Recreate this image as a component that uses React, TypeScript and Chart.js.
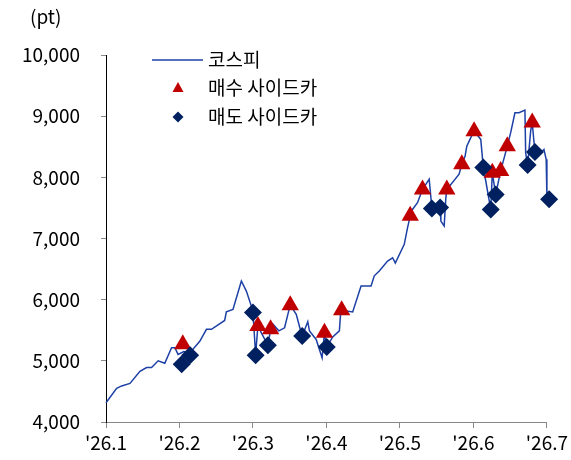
import React, { useEffect, useRef } from "react";
import { Chart, registerables } from "chart.js";

Chart.register(...registerables);

// X axis: month index (1 = '26.1 ... 7 = '26.7)
const xTickLabels = ["'26.1", "'26.2", "'26.3", "'26.4", "'26.5", "'26.6", "'26.7"];
const yTickValues = [4000, 5000, 6000, 7000, 8000, 9000, 10000];

// 코스피 line
const kospiX = [
  1.0, 1.145, 1.213, 1.326, 1.462, 1.552, 1.62, 1.71, 1.8, 1.892, 1.937, 1.981, 2.059, 2.14,
  2.276, 2.367, 2.435, 2.615, 2.638, 2.728, 2.842, 2.91, 2.978, 3.0, 3.036, 3.067, 3.118,
  3.203, 3.24, 3.271, 3.352, 3.43, 3.475, 3.507, 3.589, 3.656, 3.67, 3.746, 3.769, 3.86,
  3.941, 3.973, 4.004, 4.085, 4.176, 4.19, 4.207, 4.357, 4.471, 4.607, 4.651, 4.719, 4.832,
  4.9, 4.937, 5.059, 5.103, 5.14, 5.171, 5.239, 5.307, 5.398, 5.435, 5.547, 5.557, 5.602,
  5.625, 5.638, 5.805, 5.842, 5.887, 5.91, 5.964, 6.009, 6.1, 6.135, 6.168, 6.212, 6.236,
  6.257, 6.303, 6.371, 6.461, 6.507, 6.565, 6.62, 6.701, 6.711, 6.738, 6.779, 6.8, 6.837,
  6.915, 6.96, 6.99, 7.0, 7.03,
];
const kospiY = [
  4315, 4550, 4590, 4630, 4830, 4890, 4890, 5000, 4960, 5215, 5215, 5105, 5150, 5130,
  5320, 5515, 5515, 5660, 5800, 5840, 6305, 6140, 5895, 5790, 5100, 5570, 5450,
  5255, 5515, 5600, 5490, 5540, 5760, 5910, 5760, 5460, 5405, 5640, 5490, 5350,
  5050, 5460, 5225, 5390, 5490, 5735, 5825, 5800, 6225, 6225, 6390, 6470, 6630,
  6685, 6600, 6905, 7175, 7370, 7475, 7585, 7800, 7970, 7490, 7505, 7285, 7205,
  7665, 7800, 8050, 8215, 8350, 8510, 8650, 8755, 8620, 8160, 7940, 7640, 7475,
  8075, 7720, 8105, 8510, 8730, 9055, 9055, 9100, 8400, 8200, 8760, 8895, 8415,
  8400, 8455, 8295, 7695, 7640,
];

// 매수 사이드카 (triangles)
const buyX = [2.045, 3.067, 3.24, 3.507, 3.973, 4.207, 5.14, 5.307, 5.638, 5.842, 6.009, 6.257, 6.371, 6.461, 6.8];
const buyY = [5270, 5570, 5515, 5910, 5460, 5825, 7370, 7800, 7800, 8215, 8755, 8075, 8105, 8510, 8895];

// 매도 사이드카 (diamonds)
const sellX = [2.03, 2.145, 3.0, 3.036, 3.203, 3.67, 4.004, 5.435, 5.547, 6.135, 6.236, 6.303, 6.738, 6.837, 7.03];
const sellY = [4945, 5090, 5790, 5090, 5255, 5405, 5225, 7490, 7505, 8160, 7475, 7720, 8200, 8415, 7640];

const seriesNames = ["코스피", "매수 사이드카", "매도 사이드카"];
const unitLabel = "(pt)";

const LINE_COLOR = "#1d40a6";
const BUY_COLOR = "#c00000";
const SELL_COLOR = "#002060";
const FONT = "'Noto Sans CJK KR', 'Noto Sans', sans-serif";

const overlayPlugin = {
  id: "overlay",
  afterDraw(chart: any) {
    const ctx = chart.ctx as CanvasRenderingContext2D;
    ctx.save();
    ctx.fillStyle = "#000";
    ctx.font = `19px ${FONT}`;
    ctx.textBaseline = "middle";
    ctx.textAlign = "left";
    ctx.fillText(unitLabel, 30, 17);

    // legend
    const lx = 178;
    const tx = 208;
    const rows = [60, 88, 117];
    ctx.strokeStyle = LINE_COLOR;
    ctx.lineWidth = 1.5;
    ctx.beginPath();
    ctx.moveTo(152, rows[0]);
    ctx.lineTo(203, rows[0]);
    ctx.stroke();

    ctx.fillStyle = BUY_COLOR;
    ctx.beginPath();
    ctx.moveTo(lx, rows[1] - 6);
    ctx.lineTo(lx + 5.5, rows[1] + 4);
    ctx.lineTo(lx - 5.5, rows[1] + 4);
    ctx.closePath();
    ctx.fill();

    ctx.fillStyle = SELL_COLOR;
    ctx.beginPath();
    ctx.moveTo(lx, rows[2] - 5.5);
    ctx.lineTo(lx + 5.5, rows[2]);
    ctx.lineTo(lx, rows[2] + 5.5);
    ctx.lineTo(lx - 5.5, rows[2]);
    ctx.closePath();
    ctx.fill();

    ctx.fillStyle = "#000";
    ctx.font = `19px ${FONT}`;
    seriesNames.forEach((n, i) => ctx.fillText(n, tx, rows[i]));
    ctx.restore();
  },
};

export default function App() {
  const ref = useRef<HTMLCanvasElement | null>(null);

  useEffect(() => {
    if (!ref.current) return;
    const chart = new Chart(ref.current, {
      type: "line",
      data: {
        datasets: [
          {
            label: seriesNames[0],
            data: kospiX.map((x, i) => ({ x, y: kospiY[i] })),
            borderColor: LINE_COLOR,
            borderWidth: 1.5,
            pointRadius: 0,
            tension: 0,
            order: 2,
            clip: false as any,
          },
          {
            label: seriesNames[1],
            data: buyX.map((x, i) => ({ x, y: buyY[i] })),
            showLine: false,
            pointStyle: "triangle",
            pointRadius: 10,
            backgroundColor: BUY_COLOR,
            borderColor: BUY_COLOR,
            borderWidth: 0,
            order: 1,
            clip: false as any,
          },
          {
            label: seriesNames[2],
            data: sellX.map((x, i) => ({ x, y: sellY[i] })),
            showLine: false,
            pointStyle: "rectRot",
            pointRadius: 9,
            backgroundColor: SELL_COLOR,
            borderColor: SELL_COLOR,
            borderWidth: 0,
            order: 0,
            clip: false as any,
          },
        ],
      },
      options: {
        responsive: false,
        animation: false,
        layout: { padding: { top: 55, right: 23, left: 0, bottom: 0 } },
        plugins: { legend: { display: false }, tooltip: { enabled: false } },
        scales: {
          x: {
            type: "linear",
            min: 1,
            max: 7,
            afterBuildTicks: (scale: any) => {
              scale.ticks = xTickLabels.map((_, i) => ({ value: i + 1 }));
            },
            afterFit: (scale: any) => {
              scale.height = 38;
            },
            ticks: {
              autoSkip: false,
              maxRotation: 0,
              padding: 3,
              color: "#000",
              font: { size: 19, family: FONT },
              callback: (v: any) => xTickLabels[Math.round(Number(v)) - 1] ?? "",
            },
            grid: { drawOnChartArea: false, drawTicks: true, tickLength: 6, color: "#888" },
            border: { display: true, color: "#888", width: 1 },
          },
          y: {
            min: 4000,
            max: 10000,
            afterBuildTicks: (scale: any) => {
              scale.ticks = yTickValues.map((v) => ({ value: v }));
            },
            afterFit: (scale: any) => {
              scale.width = 106;
            },
            ticks: {
              padding: 21,
              color: "#000",
              font: { size: 19, family: FONT },
              callback: (v: any) => Number(v).toLocaleString("en-US"),
            },
            grid: { drawOnChartArea: false, drawTicks: true, tickLength: 5, color: "#888" },
            border: { display: true, color: "#000", width: 1 },
          },
        },
      },
      plugins: [overlayPlugin],
    });
    return () => chart.destroy();
  }, []);

  return (
    <div style={{ position: "fixed", left: 0, top: 0, width: 571, height: 460, background: "#fff" }}>
      <canvas ref={ref} width={571} height={460} style={{ width: 571, height: 460 }} />
    </div>
  );
}
